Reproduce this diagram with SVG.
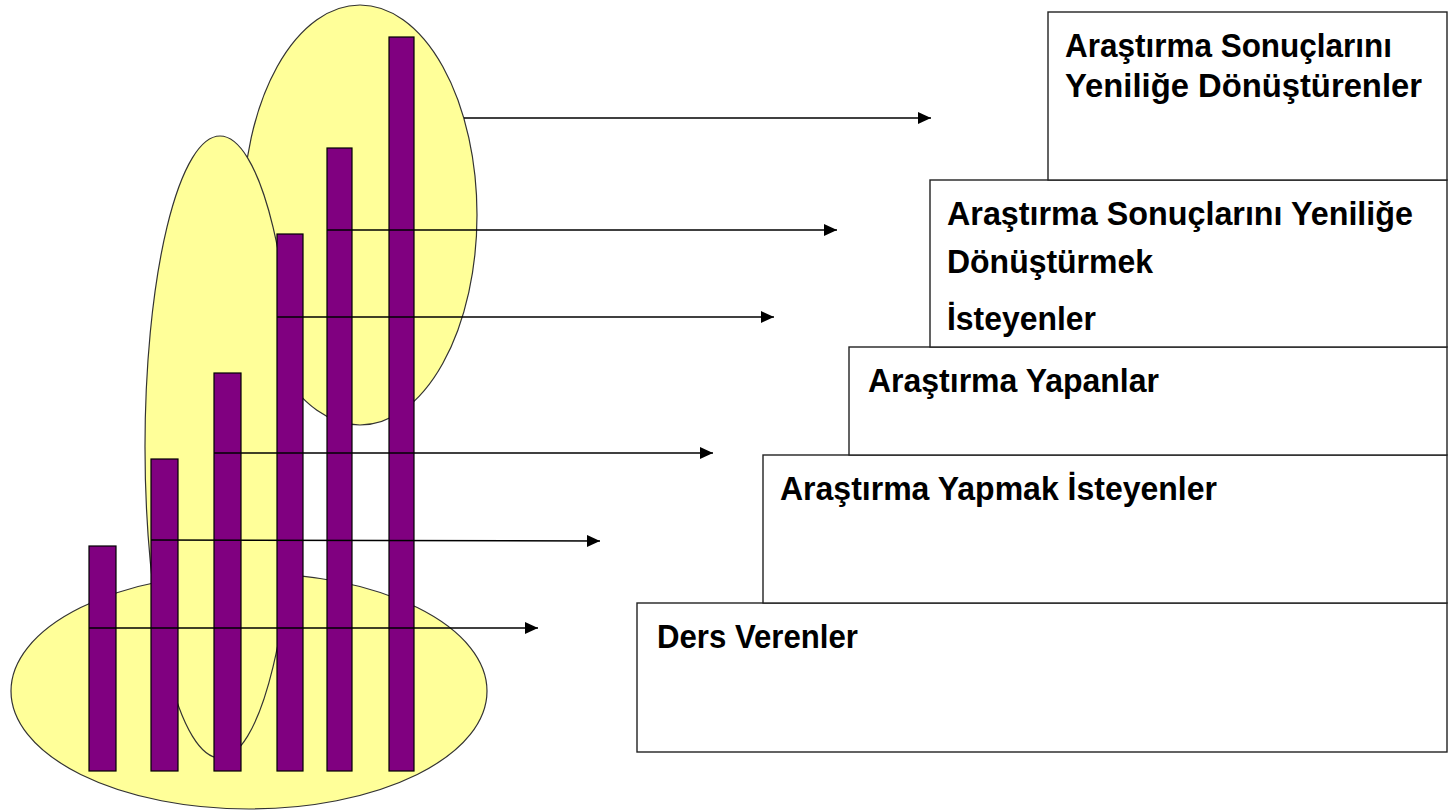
<svg xmlns="http://www.w3.org/2000/svg" width="1449" height="811" viewBox="0 0 1449 811">
<style>
.ell{fill:#FFFF99;stroke:#333;stroke-width:1.2}
.bar{fill:#800080;stroke:#000;stroke-width:1.2}
.box{fill:#fff;stroke:#222;stroke-width:1.4}
.lbl{font-family:"Liberation Sans",Arial,sans-serif;font-weight:bold;font-size:33px;fill:#000}
.arr{stroke:#000;stroke-width:1.6;fill:none;marker-end:url(#ah)}
</style>
<defs>
<marker id="ah" viewBox="0 0 13 12" refX="13" refY="6" markerWidth="13" markerHeight="12" markerUnits="userSpaceOnUse" orient="auto">
<path d="M0,0 L13,6 L0,12 Z" fill="#000"/>
</marker>
</defs>
<rect width="1449" height="811" fill="#fff"/>

<g id="box5"><rect class="box" x="637" y="603" width="810" height="149"/>
<text class="lbl" x="657" y="648" textLength="201" lengthAdjust="spacingAndGlyphs">Ders Verenler</text></g>
<g id="box4"><rect class="box" x="763" y="455" width="684" height="148"/>
<text class="lbl" x="780" y="500" textLength="437" lengthAdjust="spacingAndGlyphs">Araştırma Yapmak İsteyenler</text></g>
<g id="box3"><rect class="box" x="849" y="347" width="598" height="108"/>
<text class="lbl" x="868" y="392" textLength="291" lengthAdjust="spacingAndGlyphs">Araştırma Yapanlar</text></g>
<g id="box2"><rect class="box" x="930" y="180" width="517" height="167"/>
<text class="lbl" x="947" y="225" textLength="466" lengthAdjust="spacingAndGlyphs">Araştırma Sonuçlarını Yeniliğe</text>
<text class="lbl" x="947" y="273" textLength="206" lengthAdjust="spacingAndGlyphs">Dönüştürmek</text>
<text class="lbl" x="947" y="330" textLength="149" lengthAdjust="spacingAndGlyphs">İsteyenler</text></g>
<g id="box1"><rect class="box" x="1048" y="12" width="399" height="168"/>
<text class="lbl" x="1065" y="57" textLength="327" lengthAdjust="spacingAndGlyphs">Araştırma Sonuçlarını</text>
<text class="lbl" x="1065" y="97" textLength="357" lengthAdjust="spacingAndGlyphs">Yeniliğe Dönüştürenler</text></g>

<g id="chart">
<ellipse class="ell" cx="360" cy="215" rx="117" ry="210"/>
<ellipse class="ell" cx="249" cy="691" rx="238" ry="118"/>
<ellipse class="ell" cx="220" cy="447" rx="75" ry="311"/>
<rect class="bar" x="89" y="546" width="27" height="225"/>
<rect class="bar" x="151" y="459" width="27" height="312"/>
<rect class="bar" x="214" y="373" width="27" height="398"/>
<rect class="bar" x="277" y="234" width="26" height="537"/>
<rect class="bar" x="327" y="148" width="25" height="623"/>
<rect class="bar" x="389" y="37" width="25" height="734"/>
</g>

<g id="connectors">
<line class="arr" x1="464" y1="118" x2="931" y2="118"/>
<line class="arr" x1="327" y1="230" x2="837" y2="230"/>
<line class="arr" x1="277" y1="317" x2="774" y2="317"/>
<line class="arr" x1="214" y1="453" x2="713" y2="453"/>
<line class="arr" x1="151" y1="540" x2="600" y2="541"/>
<line class="arr" x1="89" y1="628" x2="538" y2="628"/>
</g>
</svg>
